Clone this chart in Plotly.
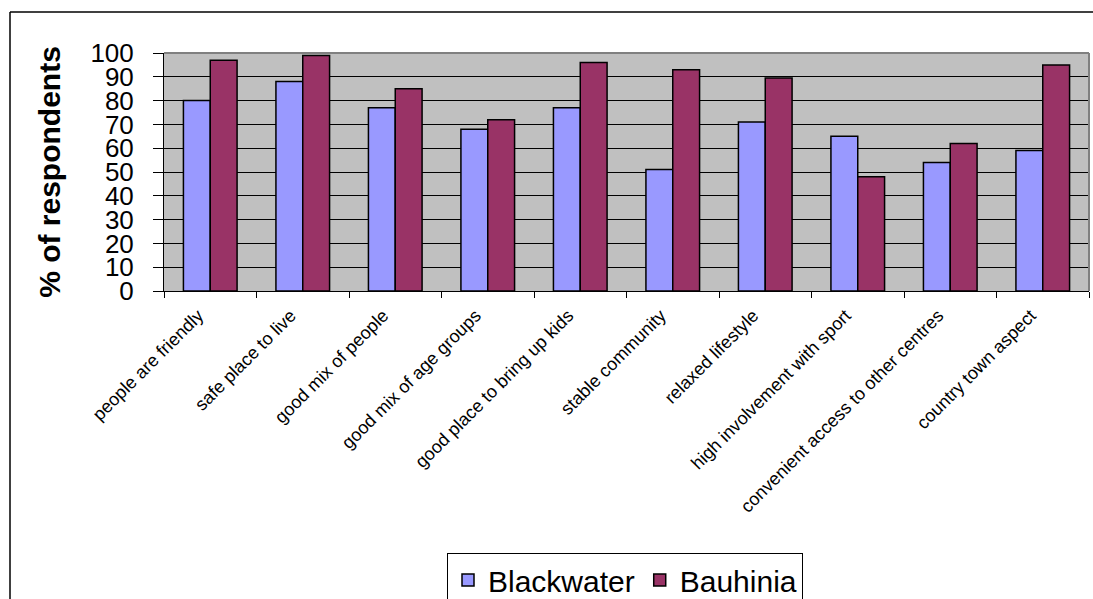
import plotly.graph_objects as go

categories = [
    "people are friendly",
    "safe place to live",
    "good mix of people",
    "good mix of age groups",
    "good place to bring up kids",
    "stable community",
    "relaxed lifestyle",
    "high involvement with sport",
    "convenient access to other centres",
    "country town aspect",
]
blackwater = [80, 88, 77, 68, 77, 51, 71, 65, 54, 59]
bauhinia = [97, 99, 85, 72, 96, 93, 89.5, 48, 62, 95]
y_ticks = list(range(0, 101, 10))

W, H = 1093, 599
L, R, T, B = 164, 4, 53, 308
pw, ph = W - L - R, H - T - B


def px_x(px):
    return (px - L) / pw


def px_y(py):
    return (H - B - py) / ph


fig = go.Figure()
fig.add_trace(go.Bar(
    x=categories, y=blackwater, name="Blackwater",
    marker=dict(color="#9999FF", line=dict(color="#000000", width=1.5)),
))
fig.add_trace(go.Bar(
    x=categories, y=bauhinia, name="Bauhinia",
    marker=dict(color="#993366", line=dict(color="#000000", width=1.5)),
))

font_family = "Liberation Sans, Arial, sans-serif"

fig.update_layout(
    width=W, height=H,
    margin=dict(l=L, r=R, t=T, b=B, autoexpand=False),
    paper_bgcolor="white",
    plot_bgcolor="#C0C0C0",
    barmode="group",
    bargap=0.42,
    bargroupgap=0,
    font=dict(family=font_family, color="black"),
    showlegend=True,
    legend=dict(
        orientation="h",
        x=px_x(625), xanchor="center",
        y=px_y(553), yanchor="top",
        font=dict(size=30, family=font_family),
        bordercolor="black", borderwidth=1,
        bgcolor="white",
    ),
    xaxis=dict(
        type="category",
        tickangle=-45,
        tickfont=dict(size=18),
        ticks="outside", ticklen=6, tickcolor="black",
        tickson="boundaries",
        ticklabelstandoff=6,
        ticklabelshift=-12,
        showgrid=False,
        showline=True, linecolor="black", linewidth=1,
        automargin=False,
    ),
    yaxis=dict(
        range=[0, 100],
        tickvals=y_ticks,
        tickfont=dict(size=26),
        ticks="outside", ticklen=10, tickcolor="black",
        ticklabelstandoff=14,
        showgrid=True, gridcolor="black", gridwidth=1,
        showline=True, linecolor="black", linewidth=1,
        zeroline=False,
        automargin=False,
        title=dict(text="<b>% of respondents</b>", font=dict(size=30), standoff=20),
    ),
    shapes=[
        # plot-area border on top and right
        dict(type="line", xref="paper", yref="paper", x0=0, x1=1, y0=1, y1=1,
             line=dict(color="#808080", width=2)),
        dict(type="line", xref="paper", yref="paper", x0=1, x1=1, y0=0, y1=1,
             line=dict(color="#808080", width=2)),
        # outer chart frame
        dict(type="line", xref="paper", yref="paper",
             x0=px_x(10), x1=px_x(1100), y0=px_y(12), y1=px_y(12),
             line=dict(color="black", width=1.5)),
        dict(type="line", xref="paper", yref="paper",
             x0=px_x(10), x1=px_x(10), y0=px_y(12), y1=px_y(610),
             line=dict(color="black", width=1.5)),
    ],
)

fig.write_html("out.html")
